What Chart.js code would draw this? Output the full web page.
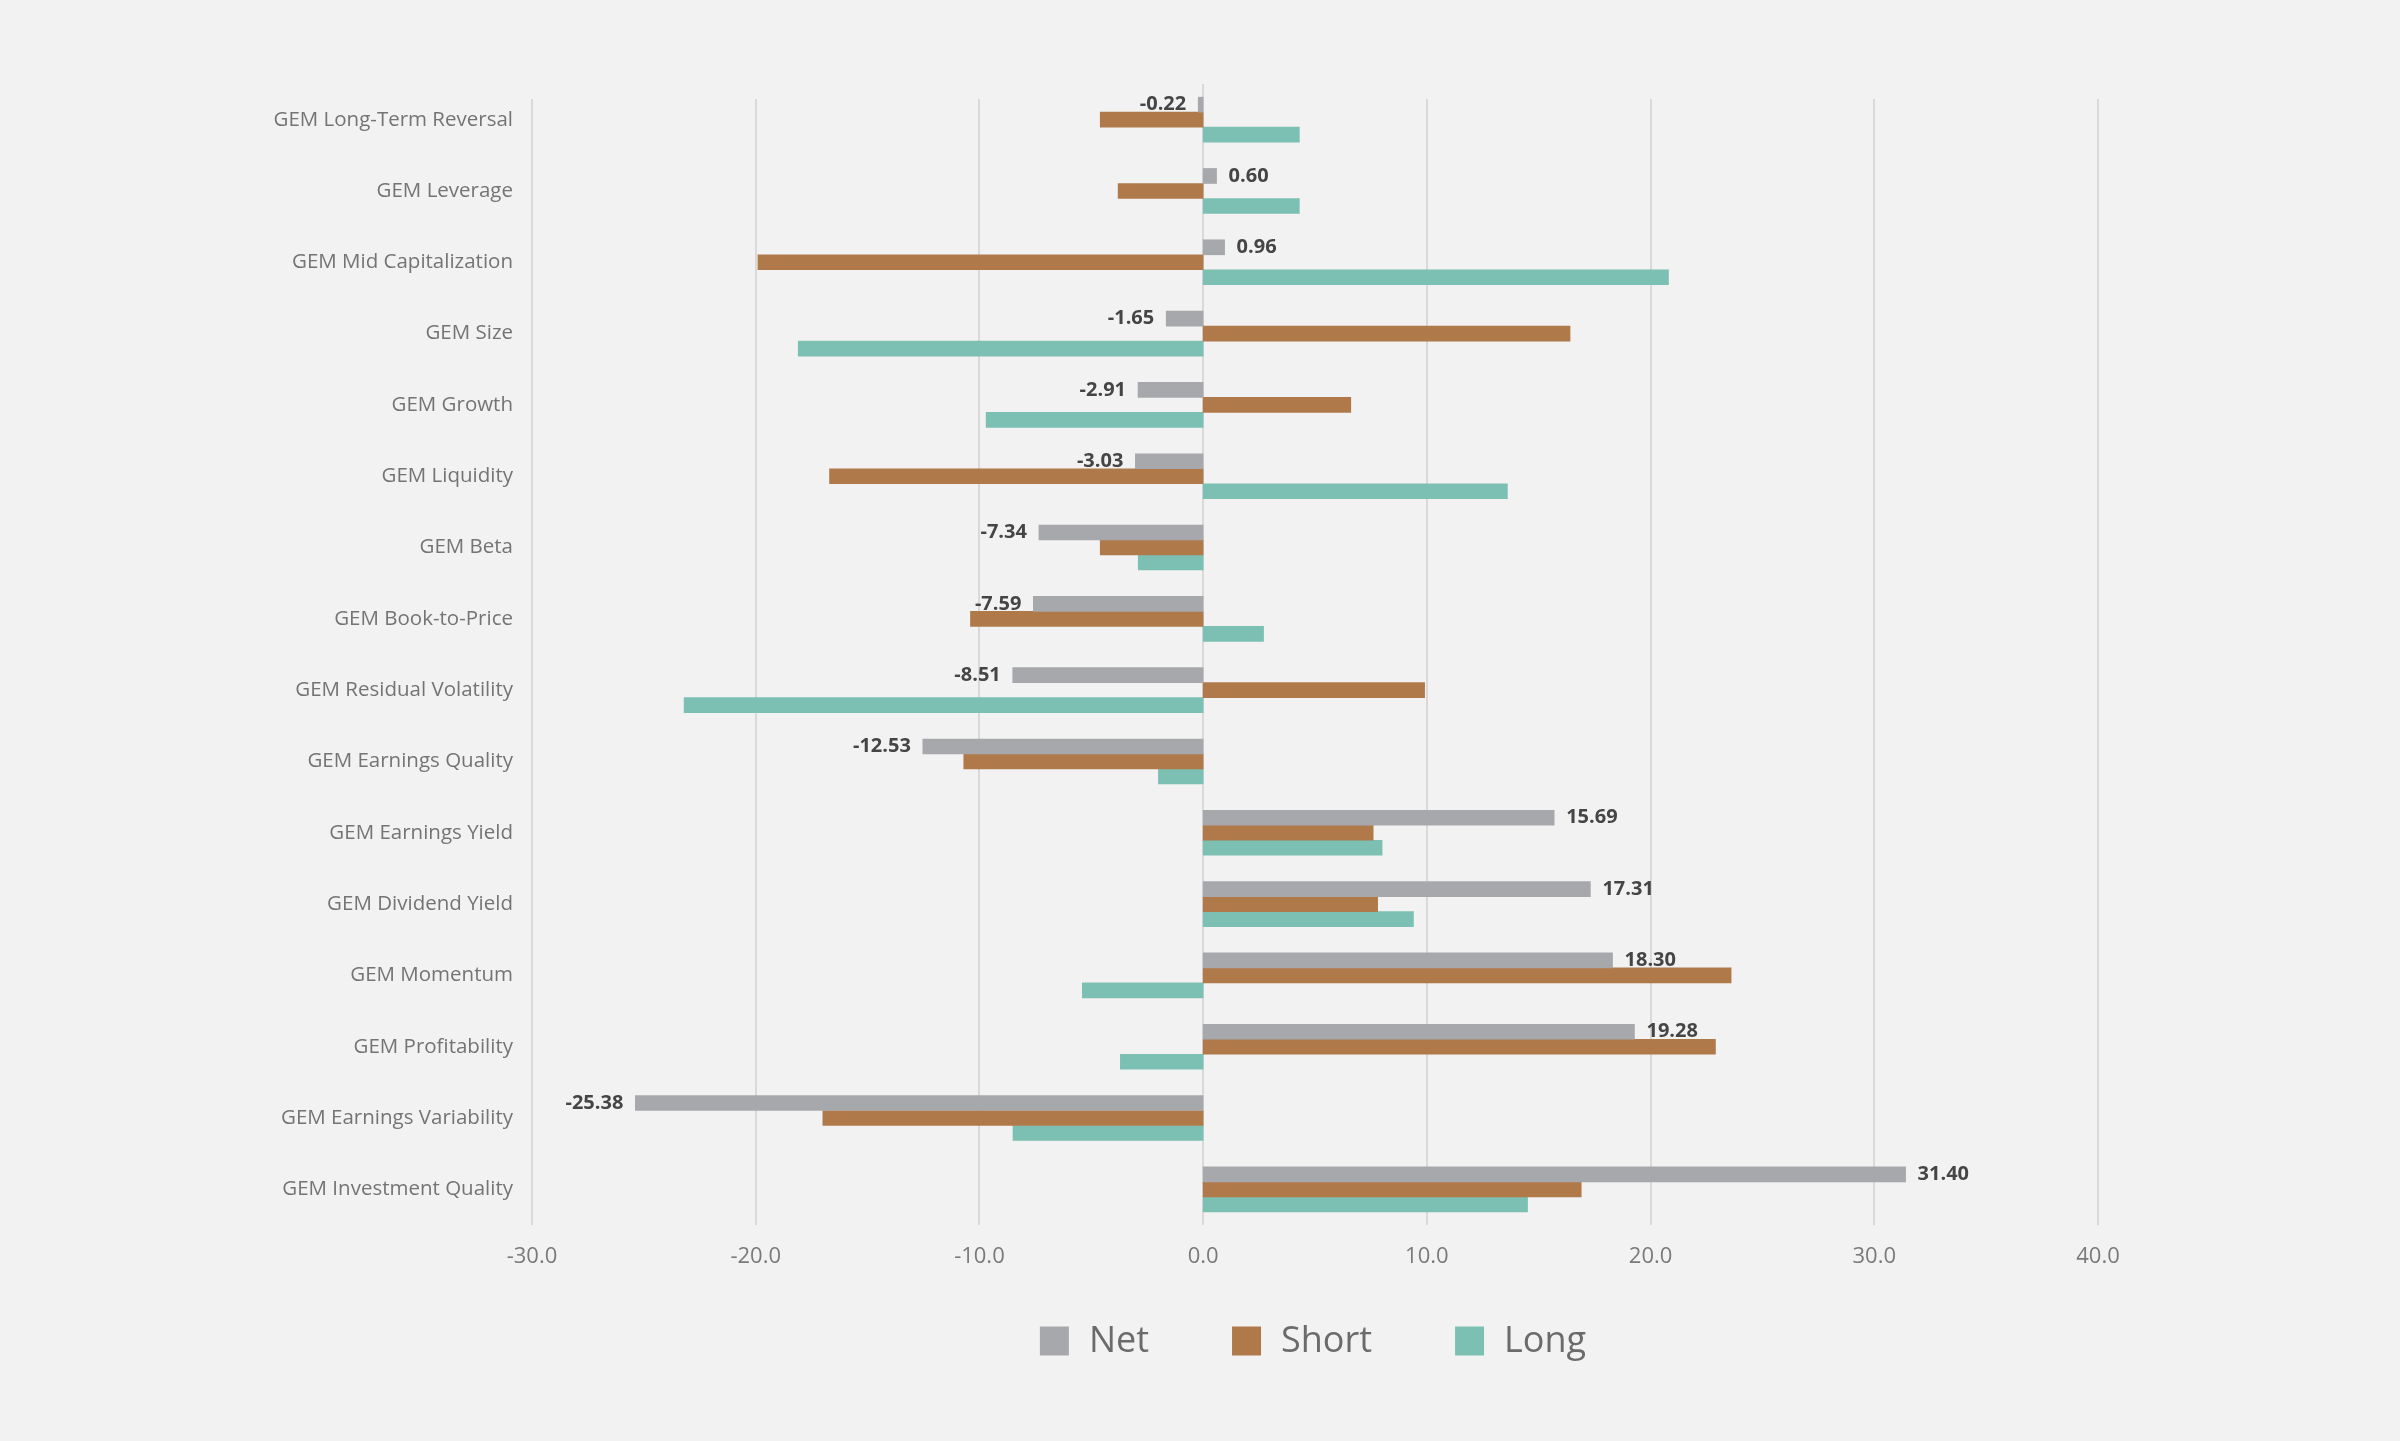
<!DOCTYPE html>
<html>
<head>
<meta charset="utf-8">
<script src="https://cdn.jsdelivr.net/npm/chart.js@4.4.1/dist/chart.umd.min.js"></script>
<style>
    html, body { margin: 0; padding: 0; background: #f2f2f2; }
    #wrap { width: 2400px; height: 1441px; }
</style>
</head>
<body>
<div id="wrap"><canvas id="grafico" width="2400" height="1441"></canvas></div>
<script>
// --- DATA ---
const factors = [
    'GEM Long-Term Reversal', 'GEM Leverage', 'GEM Mid Capitalization', 'GEM Size',
    'GEM Growth', 'GEM Liquidity', 'GEM Beta', 'GEM Book-to-Price',
    'GEM Residual Volatility', 'GEM Earnings Quality', 'GEM Earnings Yield', 'GEM Dividend Yield',
    'GEM Momentum', 'GEM Profitability', 'GEM Earnings Variability', 'GEM Investment Quality'
];
const netValues = [-0.22, 0.60, 0.96, -1.65, -2.91, -3.03, -7.34, -7.59, -8.51, -12.53, 15.69, 17.31, 18.30, 19.28, -25.38, 31.40];
const shortValues = [-4.6, -3.8, -19.9, 16.4, 6.6, -16.7, -4.6, -10.4, 9.9, -10.7, 7.6, 7.8, 23.6, 22.9, -17.0, 16.9];
const longValues = [4.3, 4.3, 20.8, -18.1, -9.7, 13.6, -2.9, 2.7, -23.2, -2.0, 8.0, 9.4, -5.4, -3.7, -8.5, 14.5];
const seriesNames = ['Net', 'Short', 'Long'];
const xTickMin = -30;
const xTickMax = 40;
const xTickStep = 10;

// --- ESTILO ---
const FONT = "'Open Sans', 'Noto Sans', sans-serif";
const COLORS = ['#a7a8ab', '#b0794a', '#7bc0b2'];
const GRID_COLOR = '#d9d9d9';

// linhas de grade verticais (via escala x)
const gridPlugin = {
    id: 'gridLines',
    beforeDatasetsDraw(chart) {
        const { ctx, chartArea, scales } = chart;
        ctx.save();
        ctx.strokeStyle = GRID_COLOR;
        ctx.lineWidth = 2;
        scales.x.ticks.forEach(t => {
            const x = Math.round(scales.x.getPixelForValue(t.value));
            const top = t.value === 0 ? chartArea.top : chartArea.top + 15;
            ctx.beginPath();
            ctx.moveTo(x, top);
            ctx.lineTo(x, chartArea.bottom);
            ctx.stroke();
        });
        ctx.restore();
    }
};

// rótulos de valor na série Net
const labelPlugin = {
    id: 'netLabels',
    afterDatasetsDraw(chart) {
        const { ctx } = chart;
        const meta = chart.getDatasetMeta(0);
        ctx.save();
        ctx.font = "bold 20px " + FONT;
        ctx.fillStyle = '#454545';
        ctx.textBaseline = 'middle';
        meta.data.forEach((bar, i) => {
            const v = netValues[i];
            const txt = v.toFixed(2);
            if (v >= 0) {
                ctx.textAlign = 'left';
                ctx.fillText(txt, bar.x + 12, bar.y);
            } else {
                ctx.textAlign = 'right';
                ctx.fillText(txt, bar.x - 12, bar.y);
            }
        });
        ctx.restore();
    }
};

// legenda desenhada abaixo do eixo
const legendPlugin = {
    id: 'bottomLegend',
    afterDraw(chart) {
        const { ctx, chartArea } = chart;
        const box = 29, gapText = 20, gapItem = 83;
        ctx.save();
        ctx.font = "36px " + FONT;
        ctx.textBaseline = 'middle';
        ctx.textAlign = 'left';
        const items = chart.data.datasets.map(ds => ({ label: ds.label, color: ds.backgroundColor, w: ctx.measureText(ds.label).width }));
        let total = 0;
        items.forEach((it, i) => { total += box + gapText + it.w + (i < items.length - 1 ? gapItem : 0); });
        let x = (chartArea.left + chartArea.right) / 2 - total / 2 - 2;
        const y = 1341;
        items.forEach(it => {
            ctx.fillStyle = it.color;
            ctx.fillRect(x, y - box / 2, box, box);
            ctx.fillStyle = '#6b6b6b';
            ctx.fillText(it.label, x + box + gapText, y + 1);
            x += box + gapText + it.w + gapItem;
        });
        ctx.restore();
    }
};

const valores = [netValues, shortValues, longValues];

new Chart(document.getElementById('grafico'), {
    type: 'bar',
    data: {
        labels: factors,
        datasets: seriesNames.map((name, i) => ({
            label: name,
            data: valores[i],
            backgroundColor: COLORS[i],
            borderWidth: 0,
            barThickness: 15
        }))
    },
    options: {
        indexAxis: 'y',
        responsive: false,
        animation: false,
        devicePixelRatio: 1,
        layout: { padding: { top: 84, right: 302, bottom: 0, left: 0 } },
        plugins: {
            legend: { display: false },
            tooltip: { enabled: false }
        },
        scales: {
            x: {
                min: xTickMin,
                max: xTickMax,
                grid: { display: false, drawTicks: false },
                border: { display: false },
                ticks: {
                    stepSize: xTickStep,
                    padding: 19,
                    color: '#7a7a7a',
                    font: { family: FONT, size: 22 },
                    callback: v => Number(v).toFixed(1)
                },
                afterFit(scale) { scale.height = 216; }
            },
            y: {
                grid: { display: false, drawTicks: false },
                border: { display: false },
                ticks: {
                    padding: 19,
                    color: '#747474',
                    font: { family: FONT, size: 20.5 }
                },
                afterFit(scale) { scale.width = 532; }
            }
        }
    },
    plugins: [gridPlugin, labelPlugin, legendPlugin]
});
</script>
</body>
</html>
